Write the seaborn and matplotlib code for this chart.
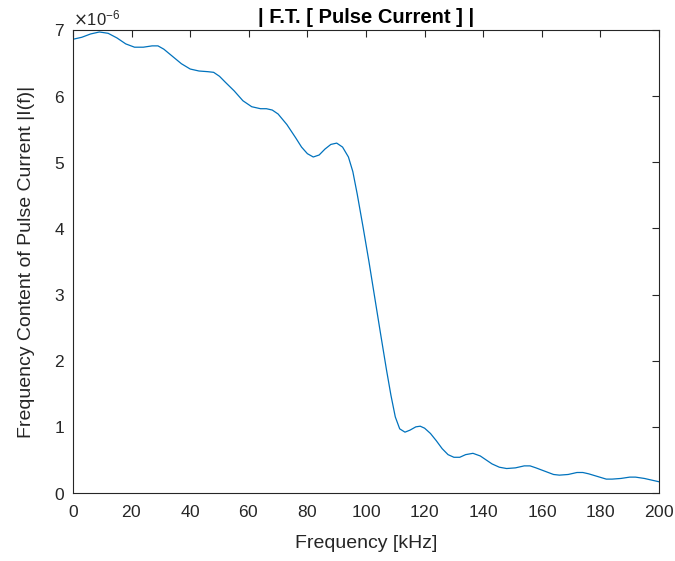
import numpy as np
import pandas as pd
import matplotlib
matplotlib.use("Agg")
import matplotlib.pyplot as plt
import seaborn as sns

freq_khz = [0, 3, 6, 9, 12, 15, 18, 21, 24, 27, 29, 31, 34, 37, 40, 43, 46, 48, 50, 52,
            55, 58, 61, 64, 66, 68, 70, 73, 76, 78, 80, 82, 84, 86, 88, 90, 92, 94, 95.5,
            97, 99, 101, 103, 105, 107, 108.5, 110, 111.5, 113.3, 115, 117, 118.5, 120,
            122, 124, 126, 128, 130, 132, 134, 136.5, 139, 141, 143, 145.5, 148, 151,
            154, 156, 158, 161, 164, 166, 169, 172, 174, 176, 179, 182, 184, 187, 190,
            192, 195, 198, 200]
magnitude_e6 = [6.86, 6.89, 6.94, 6.97, 6.95, 6.88, 6.79, 6.74, 6.74, 6.76, 6.76, 6.71,
                6.60, 6.49, 6.41, 6.38, 6.37, 6.36, 6.30, 6.21, 6.08, 5.93, 5.84, 5.81,
                5.81, 5.79, 5.73, 5.57, 5.37, 5.23, 5.13, 5.08, 5.11, 5.20, 5.27, 5.29,
                5.23, 5.08, 4.86, 4.52, 4.02, 3.50, 2.95, 2.40, 1.86, 1.48, 1.15, 0.97,
                0.92, 0.95, 1.00, 1.01, 0.98, 0.90, 0.79, 0.67, 0.58, 0.54, 0.54, 0.58,
                0.60, 0.56, 0.50, 0.44, 0.39, 0.37, 0.38, 0.41, 0.41, 0.38, 0.33, 0.28,
                0.27, 0.28, 0.31, 0.31, 0.29, 0.25, 0.21, 0.21, 0.22, 0.24, 0.24, 0.22,
                0.19, 0.17]
x_ticks = [0, 20, 40, 60, 80, 100, 120, 140, 160, 180, 200]
y_ticks = [0, 1, 2, 3, 4, 5, 6, 7]

df = pd.DataFrame({"f": freq_khz, "I": np.array(magnitude_e6) * 1e-6})

sns.set_theme(style="white")
plt.rcParams["font.family"] = ["Liberation Sans", "DejaVu Sans"]
plt.rcParams["axes.formatter.use_mathtext"] = True
text_col = "#262626"

fig = plt.figure(figsize=(6.75, 5.61), dpi=100)
ax = fig.add_axes([73 / 675, 1 - 493 / 561, (659 - 73) / 675, (493 - 30) / 561])
sns.lineplot(data=df, x="f", y="I", ax=ax, color="#0072BD", linewidth=0.9)

ax.set_xlim(0, 200)
ax.set_ylim(0, 7e-6)
ax.set_xticks(x_ticks)
ax.set_yticks(np.array(y_ticks) * 1e-6)
ax.ticklabel_format(axis="y", style="sci", scilimits=(0, 0), useMathText=True)
ax.tick_params(direction="in", top=True, right=True, length=5, width=0.8,
               colors=text_col, labelsize=12.5)
ax.tick_params(axis="x", pad=8)
ax.tick_params(axis="y", pad=6)
for s in ax.spines.values():
    s.set_color(text_col)
    s.set_linewidth(0.8)
ax.yaxis.get_offset_text().set_fontsize(12)
ax.yaxis.get_offset_text().set_color(text_col)

ax.set_xlabel("Frequency [kHz]", fontsize=14, color=text_col, labelpad=11)
ax.set_ylabel("Frequency Content of Pulse Current |I(f)|", fontsize=14, color=text_col, labelpad=13)
ax.set_title("| F.T. [ Pulse Current ] |", fontsize=14.5, fontweight="bold", color="black", pad=5)

fig.savefig("out.png", dpi=100)
